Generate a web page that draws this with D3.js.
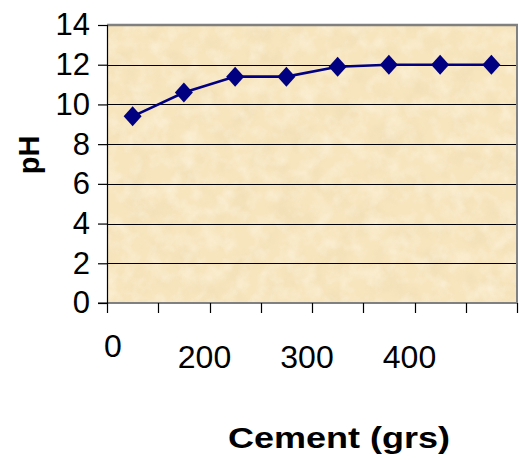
<!DOCTYPE html>
<html>
<head>
<meta charset="utf-8">
<script src="https://cdn.jsdelivr.net/npm/d3@7"></script>
<style>
  html, body { margin: 0; padding: 0; background: #fff; }
  svg { display: block; font-family: "Liberation Sans", Arial, sans-serif; }
</style>
</head>
<body>
<svg id="chart" width="519" height="460"></svg>
<script>
// Eight cement dosages (category axis) and the measured pH for each
const samples = ["S1", "S2", "S3", "S4", "S5", "S6", "S7", "S8"];
const phValues = [9.4, 10.6, 11.4, 11.4, 11.9, 12.0, 12.0, 12.0];
// Labels placed on the category boundaries (9 boundaries for 8 categories)
const boundaryLabels = ["0", "", "200", "", "300", "", "400", "", ""];
const yTicks = [0, 2, 4, 6, 8, 10, 12, 14];

(function () {
const svg = d3.select("#chart");
const pLeft = 107, pRight = 517, pTop = 25, pBottom = 303;

const x = d3.scaleBand().domain(samples).range([pLeft, pRight]).padding(0);
const y = d3.scaleLinear().domain([0, 14]).range([pBottom, pTop]);

// Parchment texture for the plot area
const defs = svg.append("defs");
const f = defs.append("filter").attr("id", "paper")
  .attr("x", 0).attr("y", 0).attr("width", "100%").attr("height", "100%");
f.append("feTurbulence").attr("type", "fractalNoise")
  .attr("baseFrequency", "0.04").attr("numOctaves", 4).attr("seed", 7).attr("result", "n");
f.append("feColorMatrix").attr("in", "n").attr("type", "matrix")
  .attr("values", "0 0 0 0 0.80  0 0 0 0 0.66  0 0 0 0 0.40  2.0 0 0 0 -0.9");
const f2 = defs.append("filter").attr("id", "paper2")
  .attr("x", 0).attr("y", 0).attr("width", "100%").attr("height", "100%");
f2.append("feTurbulence").attr("type", "fractalNoise")
  .attr("baseFrequency", "0.06").attr("numOctaves", 3).attr("seed", 21).attr("result", "n");
f2.append("feColorMatrix").attr("in", "n").attr("type", "matrix")
  .attr("values", "0 0 0 0 1  0 0 0 0 0.96  0 0 0 0 0.84  2.0 0 0 0 -0.85");

svg.append("rect").attr("x", pLeft).attr("y", pTop)
  .attr("width", pRight - pLeft).attr("height", pBottom - pTop).attr("fill", "#f7e5be");
svg.append("rect").attr("x", pLeft).attr("y", pTop)
  .attr("width", pRight - pLeft).attr("height", pBottom - pTop)
  .attr("fill", "#fff").attr("filter", "url(#paper)").attr("opacity", 0.4);
svg.append("rect").attr("x", pLeft).attr("y", pTop)
  .attr("width", pRight - pLeft).attr("height", pBottom - pTop)
  .attr("fill", "#fff").attr("filter", "url(#paper2)").attr("opacity", 0.5);

// Horizontal gridlines
svg.append("g").selectAll("line").data(yTicks.filter(t => t > 0 && t < 14)).join("line")
  .attr("x1", pLeft).attr("x2", pRight)
  .attr("y1", d => Math.round(y(d)) + 0.5).attr("y2", d => Math.round(y(d)) + 0.5)
  .attr("stroke", "#000").attr("stroke-width", 1);

// Frame: grey top/right/bottom edges
svg.append("line").attr("x1", pLeft).attr("x2", pRight + 1).attr("y1", pTop).attr("y2", pTop)
  .attr("stroke", "#808080").attr("stroke-width", 2.5);
svg.append("line").attr("x1", pRight).attr("x2", pRight).attr("y1", pTop).attr("y2", pBottom)
  .attr("stroke", "#808080").attr("stroke-width", 2);
svg.append("line").attr("x1", pLeft - 9).attr("x2", pRight + 1).attr("y1", pBottom).attr("y2", pBottom)
  .attr("stroke", "#808080").attr("stroke-width", 2);

// Y axis
const yAxis = d3.axisLeft(y).tickValues(yTicks).tickSize(9).tickPadding(8);
const gy = svg.append("g").attr("transform", `translate(${pLeft},0)`).call(yAxis);
gy.select(".domain").attr("stroke", "#000").attr("stroke-width", 1.2);
gy.selectAll(".tick line").attr("stroke", "#000").attr("stroke-width", 1.2);
gy.selectAll(".tick text").attr("font-size", 31).attr("fill", "#000")
  .attr("font-family", "Liberation Sans, Arial, sans-serif");

// X axis ticks on category boundaries
const boundaries = samples.map(s => x(s)).concat([pRight]);
svg.append("g").selectAll("line").data(boundaries).join("line")
  .attr("x1", d => Math.round(d) + 0.5).attr("x2", d => Math.round(d) + 0.5)
  .attr("y1", pBottom).attr("y2", pBottom + 10)
  .attr("stroke", "#000").attr("stroke-width", 1.2);
svg.append("g").selectAll("text").data(boundaryLabels.map((l, i) => ({ l, i })).filter(d => d.l))
  .join("text")
  .attr("x", d => boundaries[d.i] + (d.i === 0 ? 6 : -5))
  .attr("y", d => d.i === 0 ? 357 : 368)
  .attr("text-anchor", "middle").attr("font-size", 32).attr("fill", "#000")
  .text(d => d.l);

// Line and diamond markers
const cx = s => x(s) + x.bandwidth() / 2;
const pts = samples.map((s, i) => [cx(s), y(phValues[i])]);
svg.append("path").datum(pts)
  .attr("d", d3.line())
  .attr("fill", "none").attr("stroke", "#000080").attr("stroke-width", 2.6);
svg.append("g").selectAll("path").data(pts).join("path")
  .attr("transform", d => `translate(${d[0]},${d[1]})`)
  .attr("d", "M0,-10L9,0L0,10L-9,0Z")
  .attr("fill", "#000080");

// Axis titles
svg.append("text").attr("transform", "translate(39,155) rotate(-90)")
  .attr("text-anchor", "middle").attr("font-size", 29).attr("font-weight", "bold")
  .text("pH");
svg.append("text").attr("x", 228).attr("y", 448)
  .attr("font-size", 29).attr("font-weight", "bold")
  .attr("textLength", 222).attr("lengthAdjust", "spacingAndGlyphs")
  .text("Cement (grs)");
})();
</script>
</body>
</html>
